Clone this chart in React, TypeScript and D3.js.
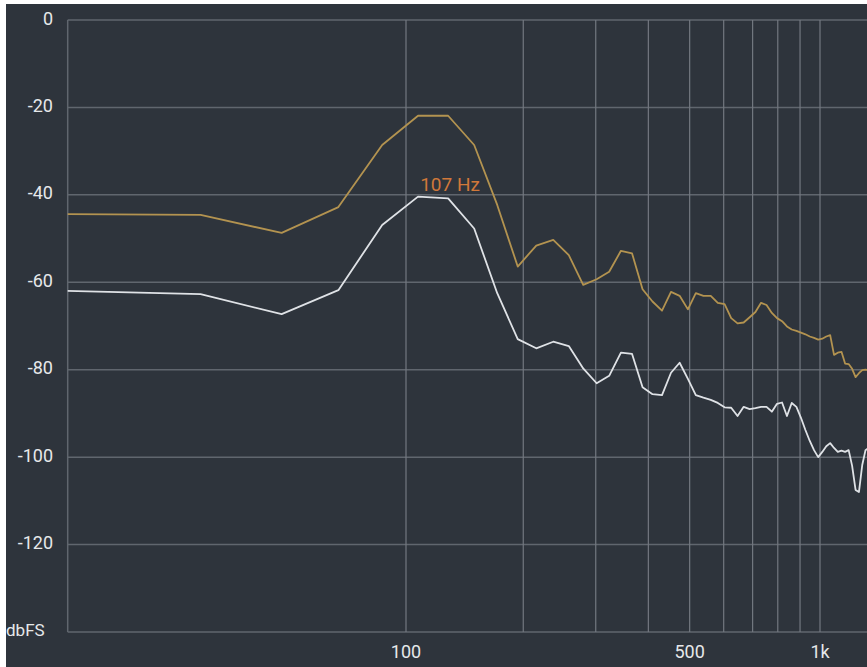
import React from "react";
import * as d3 from "d3";

// FFT bin frequencies (Hz)
const freqs = [
  0, 21.5, 43.1, 64.6, 86.1, 107.7, 129.2, 150.7, 172.3, 193.8,
  215.3, 236.9, 258.4, 279.9, 301.5, 323.0, 344.5, 366.1, 387.6, 409.1,
  430.7, 452.2, 473.7, 495.3, 516.8, 538.3, 559.9, 581.4, 602.9, 624.5,
  646.0, 667.5, 689.1, 710.6, 732.1, 753.7, 775.2, 796.7, 818.3, 839.8,
  861.3, 882.9, 904.4, 925.9, 947.5, 969.0, 990.5, 1012.1, 1033.6, 1055.1,
  1076.7, 1098.2, 1119.7, 1141.3, 1162.8, 1184.3, 1205.9, 1227.4, 1248.9, 1270.5,
  1292.0,
];

// Peak-hold spectrum (gold), dBFS
const peakDb = [
  -44.4, -44.6, -48.7, -42.8, -28.6, -21.9, -21.9, -28.6, -42.3, -56.4,
  -51.6, -50.3, -53.8, -60.6, -59.3, -57.6, -52.8, -53.4, -61.6, -64.4,
  -66.5, -62.2, -63.1, -66.2, -62.5, -63.1, -63.1, -64.7, -65.0, -68.2,
  -69.4, -69.2, -68.0, -66.8, -64.7, -65.2, -67.0, -68.2, -68.9, -70.1,
  -70.8, -71.1, -71.5, -71.9, -72.4, -72.7, -73.1, -72.9, -72.4, -72.1,
  -76.6, -76.1, -75.9, -78.6, -78.7, -79.8, -81.7, -80.8, -80.1, -80.0,
  -80.1,
];

// Current spectrum (white), dBFS
const liveDb = [
  -61.9, -62.7, -67.3, -61.8, -46.9, -40.4, -40.8, -47.7, -62.5, -73.0,
  -75.1, -73.6, -74.6, -79.7, -83.1, -81.4, -76.1, -76.4, -84.0, -85.6,
  -85.8, -80.7, -78.4, -82.1, -85.8, -86.4, -86.9, -87.6, -88.6, -88.7,
  -90.6, -88.5, -89.0, -88.8, -88.5, -88.5, -89.6, -87.8, -87.5, -90.6,
  -87.6, -88.5, -91.0, -93.8, -96.3, -98.4, -100.0, -98.8, -97.5, -96.8,
  -97.9, -98.8, -98.5, -98.8, -98.4, -102.0, -107.5, -108.0, -101.8, -98.4,
  -97.9,
];

const yTicks = [0, -20, -40, -60, -80, -100, -120];
const yBottomLabel = "dbFS";
const xGridFreqs = [100, 200, 300, 400, 500, 600, 700, 800, 900, 1000];
const xTickLabels = [
  { f: 100, label: "100" },
  { f: 500, label: "500" },
  { f: 1000, label: "1k" },
];
const peakLabel = { f: 107.7, text: "107 Hz" };

const W = 867;
const H = 667;
const FREQ_OFFSET = 20;
const PLOT_LEFT = 67.7;
const PLOT_TOP = 20;
const PLOT_BOTTOM = 632;

export default function App() {
  const xs = d3.scaleLog().domain([100 + FREQ_OFFSET, 1000 + FREQ_OFFSET]).range([406, 820]);
  const x = (f: number) => xs(f + FREQ_OFFSET);
  const y = d3.scaleLinear().domain([0, -140]).range([PLOT_TOP, PLOT_BOTTOM]);

  const line = d3
    .line<number>()
    .x((_, i) => x(freqs[i]))
    .y((d) => y(d));

  const font = "Roboto, 'Noto Sans', sans-serif";
  const gridColor = "#60666e";
  const vGridColor = "#737880";

  return (
    <svg
      width={W}
      height={H}
      style={{ position: "absolute", left: 0, top: 0, display: "block" }}
    >
      <rect x={0} y={0} width={W} height={H} fill="#ffffff" />
      <rect x={6} y={4} width={W - 6} height={H - 4} fill="#2e343c" />
      <defs>
        <clipPath id="plotClip">
          <rect x={PLOT_LEFT} y={0} width={W - PLOT_LEFT} height={H} />
        </clipPath>
      </defs>

      {/* horizontal grid */}
      {[...yTicks, -140].map((t) => (
        <line
          key={"h" + t}
          x1={PLOT_LEFT}
          x2={W}
          y1={y(t)}
          y2={y(t)}
          stroke={gridColor}
          strokeWidth={1.5}
        />
      ))}
      {/* vertical grid */}
      <line x1={PLOT_LEFT} x2={PLOT_LEFT} y1={PLOT_TOP} y2={PLOT_BOTTOM} stroke={gridColor} strokeWidth={1.5} />
      {xGridFreqs.map((f) => (
        <line
          key={"v" + f}
          x1={x(f)}
          x2={x(f)}
          y1={PLOT_TOP}
          y2={PLOT_BOTTOM}
          stroke={vGridColor}
          strokeWidth={1.2}
        />
      ))}

      {/* y labels */}
      {yTicks.map((t) => (
        <text
          key={"yl" + t}
          x={53}
          y={y(t) - 2}
          textAnchor="end"
          dominantBaseline="central"
          fill="#e6e8ea"
          fontFamily={font}
          fontSize={18}
        >
          {t}
        </text>
      ))}
      <text
        x={6}
        y={y(-140) - 2}
        dominantBaseline="central"
        fill="#e6e8ea"
        fontFamily={font}
        fontSize={17}
      >
        {yBottomLabel}
      </text>

      {/* x labels */}
      {xTickLabels.map((t) => (
        <text
          key={"xl" + t.f}
          x={x(t.f)}
          y={651}
          textAnchor="middle"
          dominantBaseline="central"
          fill="#e6e8ea"
          fontFamily={font}
          fontSize={18}
        >
          {t.label}
        </text>
      ))}

      <g clipPath="url(#plotClip)">
        <path d={line(peakDb) || ""} fill="none" stroke="#b39350" strokeWidth={1.8} strokeLinejoin="round" />
        <path d={line(liveDb) || ""} fill="none" stroke="#dfe2e6" strokeWidth={1.8} strokeLinejoin="round" />
      </g>

      <text
        x={x(peakLabel.f) + 32}
        y={184}
        textAnchor="middle"
        dominantBaseline="central"
        fill="#d0783a"
        fontFamily={font}
        fontSize={19}
      >
        {peakLabel.text}
      </text>
    </svg>
  );
}
